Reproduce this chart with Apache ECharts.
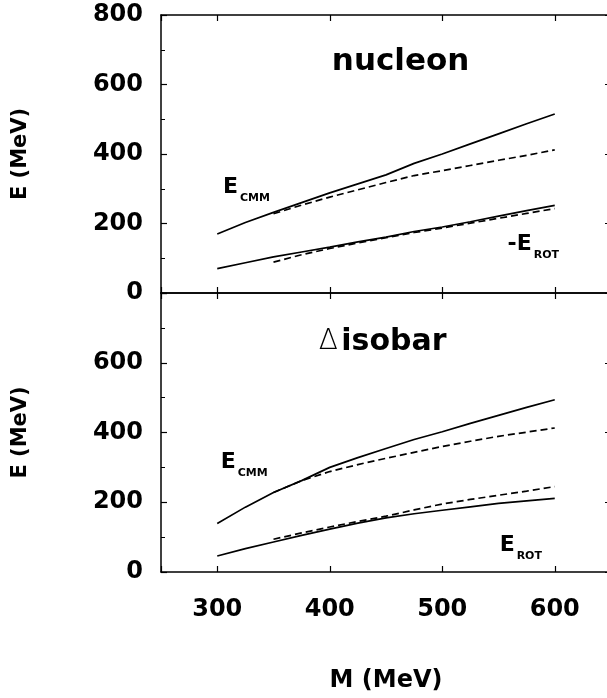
<!DOCTYPE html>
<html><head><meta charset="utf-8">
<script src="https://cdn.jsdelivr.net/npm/echarts@6/dist/echarts.min.js"></script>
<style>html,body{margin:0;padding:0;background:#fff}#c{width:607px;height:698px}</style>
</head><body><div id="c"></div>
<script>
// ---- data ----
const massSolid  = [300, 325, 350, 375, 400, 425, 450, 475, 500, 525, 550, 575, 600];
const massDashed = [350, 375, 400, 425, 450, 475, 500, 525, 550, 575, 600];

// nucleon panel
const nucCmmSolid  = [170, 203, 232, 260, 288, 314, 340, 373, 400, 429, 458, 487, 515];
const nucCmmDashed = [228, 253, 276, 297, 318, 338, 352, 367, 382, 396, 412];
const nucRotSolid  = [70, 87, 104, 118, 132, 147, 161, 177, 190, 205, 221, 237, 252];
const nucRotDashed = [89, 110, 128, 144, 159, 174, 187, 201, 215, 229, 243];

// Delta isobar panel
const delCmmSolid  = [139, 186, 228, 262, 300, 328, 354, 380, 402, 426, 449, 472, 494];
const delCmmDashed = [228, 262, 288, 308, 326, 343, 360, 375, 389, 401, 413];
const delRotSolid  = [46, 67, 86, 105, 123, 140, 155, 167, 177, 187, 197, 204, 211];
const delRotDashed = [94, 112, 129, 145, 160, 178, 195, 208, 220, 232, 245];

const xTickLabels = [300, 400, 500, 600];
const yTickLabelsTop = [0, 200, 400, 600, 800];
const yTickLabelsBottom = [0, 200, 400, 600];

const panelTitles = ['nucleon', 'isobar'];
const curveLabels = [
  {grid: 0, m: 305, e: 305, main: 'E', sub: 'CMM'},
  {grid: 0, m: 558, e: 141, main: '-E', sub: 'ROT'},
  {grid: 1, m: 303, e: 314, main: 'E', sub: 'CMM'},
  {grid: 1, m: 551, e: 78, main: 'E', sub: 'ROT'}
];
const titleAnchors = [{grid: 0, m: 463, e: 665}, {grid: 1, m: 447, e: 660}];

// ---- chart ----
const FONT = 'DejaVu Sans';
const pairs = (xs, ys) => xs.map((x, i) => [x, ys[i]]);
const chart = echarts.init(document.getElementById('c'), null, {renderer: 'canvas'});

const axisLineStyle = {color: '#000', width: 1.5};
function xAxis(grid, pos, labels) {
  return {
    type: 'value', gridIndex: grid, position: pos, min: 250, max: 650, splitNumber: 4,
    splitLine: {show: false},
    axisLine: {show: true, onZero: false, lineStyle: axisLineStyle},
    axisTick: {show: true, inside: true, length: 6, lineStyle: {color: '#000', width: 1.2}},
    axisLabel: labels ? {
      show: true, margin: 26, color: '#000', fontFamily: FONT, fontWeight: 'bold', fontSize: 24,
      formatter: v => xTickLabels.includes(v) ? String(v) : ''
    } : {show: false},
    name: labels ? 'M (MeV)' : '', nameLocation: 'middle', nameGap: 97,
    nameTextStyle: {color: '#000', fontFamily: FONT, fontWeight: 'bold', fontSize: 24}
  };
}
function yAxis(grid, pos, labels) {
  return {
    type: 'value', gridIndex: grid, position: pos, min: 0, max: 800, interval: 200,
    splitLine: {show: false},
    axisLine: {show: true, onZero: false, lineStyle: axisLineStyle},
    axisTick: {show: true, inside: true, length: 6, lineStyle: {color: '#000', width: 1.2}},
    minorTick: {show: true, splitNumber: 2, length: 4, lineStyle: {color: '#000', width: 1}},
    axisLabel: labels ? {
      show: true, margin: 18, color: '#000', fontFamily: FONT, fontWeight: 'bold', fontSize: 24,
      formatter: v => labels.includes(v) ? String(v) : ''
    } : {show: false},
    name: labels ? 'E (MeV)' : '', nameLocation: 'middle', nameGap: 130,
    nameTextStyle: {color: '#000', fontFamily: FONT, fontWeight: 'bold', fontSize: 21}
  };
}
function line(grid, xs, ys, dashed) {
  return {
    type: 'line', xAxisIndex: grid * 2, yAxisIndex: grid * 2, data: pairs(xs, ys),
    symbol: 'none', showSymbol: false, smooth: false, silent: true,
    lineStyle: {color: '#000', width: 1.7, type: dashed ? [7, 4] : 'solid'}
  };
}

chart.setOption({
  animation: false,
  backgroundColor: '#fff',
  grid: [
    {left: 161, top: 15, width: 450, height: 278, containLabel: false, outerBoundsMode: 'none'},
    {left: 161, top: 293, width: 450, height: 279, containLabel: false, outerBoundsMode: 'none'}
  ],
  xAxis: [xAxis(0, 'bottom', false), xAxis(0, 'top', false), xAxis(1, 'bottom', true), xAxis(1, 'top', false)],
  yAxis: [yAxis(0, 'left', yTickLabelsTop), yAxis(0, 'right', null), yAxis(1, 'left', yTickLabelsBottom), yAxis(1, 'right', null)],
  series: [
    line(0, massSolid, nucCmmSolid, false),
    line(0, massDashed, nucCmmDashed, true),
    line(0, massSolid, nucRotSolid, false),
    line(0, massDashed, nucRotDashed, true),
    line(1, massSolid, delCmmSolid, false),
    line(1, massDashed, delCmmDashed, true),
    line(1, massSolid, delRotSolid, false),
    line(1, massDashed, delRotDashed, true)
  ]
});

// ---- annotations placed through the axes ----
const ctx = document.createElement('canvas').getContext('2d');
function textW(t, font) { ctx.font = font; return ctx.measureText(t).width; }
const toPx = (g, m, e) => chart.convertToPixel({gridIndex: g}, [m, e]);

const elements = [];
curveLabels.forEach(l => {
  const p = toPx(l.grid, l.m, l.e);
  const mainFont = 'bold 22px "' + FONT + '"';
  const w = textW(l.main, mainFont);
  elements.push({type: 'text', x: p[0], y: p[1], silent: true,
    style: {text: l.main, font: mainFont, fill: '#000', textAlign: 'left', textVerticalAlign: 'middle'}});
  elements.push({type: 'text', x: p[0] + w + 2, y: p[1] + 11, silent: true,
    style: {text: l.sub, font: 'bold 11px "' + FONT + '"', fill: '#000', textAlign: 'left', textVerticalAlign: 'middle'}});
});
{
  const p = toPx(titleAnchors[0].grid, titleAnchors[0].m, titleAnchors[0].e);
  elements.push({type: 'text', x: p[0], y: p[1], silent: true,
    style: {text: panelTitles[0], font: 'bold 31px "' + FONT + '"', fill: '#000', textAlign: 'center', textVerticalAlign: 'middle'}});
  const q = toPx(titleAnchors[1].grid, titleAnchors[1].m, titleAnchors[1].e);
  elements.push({type: 'text', x: q[0], y: q[1], silent: true,
    style: {text: '{d|Δ} {t|' + panelTitles[1] + '}', fill: '#000', textAlign: 'center', textVerticalAlign: 'middle',
      rich: {
        d: {fontFamily: FONT, fontWeight: 200, fontSize: 28, fill: '#000'},
        t: {fontFamily: FONT, fontWeight: 'bold', fontSize: 30, fill: '#000'}
      }}});
}
chart.setOption({graphic: {elements: elements}});
</script>
</body></html>
